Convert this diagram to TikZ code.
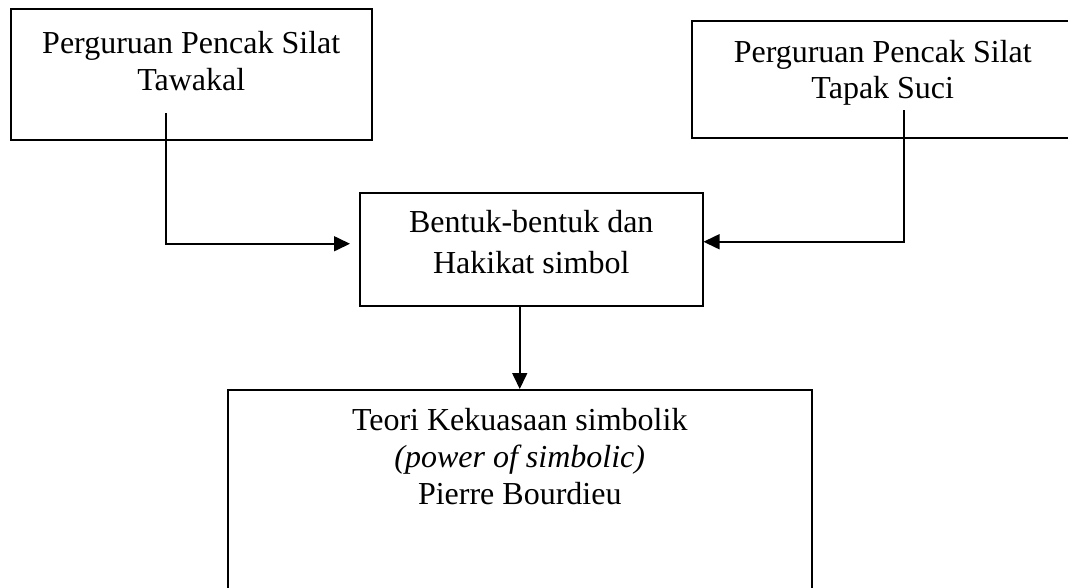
\documentclass[tikz,border=0pt]{standalone}
\usepackage{fontspec}
\setmainfont{Liberation Serif}
\usetikzlibrary{positioning}
\usetikzlibrary{arrows.meta}

\tikzset{
    frame/.style={draw,line width=1.5pt,anchor=north west,inner sep=0pt},
    caption/.style={anchor=north,align=center,inner sep=0pt,font=\fontsize{32}{36}\selectfont},
    link/.style={line width=1.6pt,-{Triangle[length=16pt,width=15pt]}},
}

\begin{document}
\begin{tikzpicture}[x=1pt,y=-1pt]
    \useasboundingbox (0,0) rectangle (1068,587);

    \node[frame,minimum width=361pt,minimum height=131pt] (tawakal) at (10,8) {};
    \node[frame,minimum width=382pt,minimum height=117pt] (tapaksuci) at (691,20) {};
    \node[frame,minimum width=343pt,minimum height=113pt] (bentuk) at (359,192) {};
    \node[frame,minimum width=584pt,minimum height=230pt] (teori) at (227,389) {};

    \node[caption,font=\fontsize{32}{37}\selectfont,below=23pt of tawakal.north] (tawakal-text) {Perguruan Pencak Silat\\Tawakal};
    \node[caption,below=20pt of tapaksuci.north] (tapaksuci-text) {Perguruan Pencak Silat\\Tapak Suci};
    \node[caption,font=\fontsize{32}{41}\selectfont,below=18pt of bentuk.north] (bentuk-text) {Bentuk-bentuk dan\\Hakikat simbol};
    \node[caption,font=\fontsize{32}{37}\selectfont,below=19pt of teori.north] (teori-text) {Teori Kekuasaan simbolik\\\textit{(power of simbolic)}\\Pierre Bourdieu};

    \coordinate (tawakal-out) at (166,113);
    \coordinate (tapaksuci-out) at (904,110);
    \draw[link,shorten >=9pt] (tawakal-out) |- ([yshift=5.5pt]bentuk.west);
    \draw[link] (tapaksuci-out) |- ([yshift=7.5pt]bentuk.east);
    \draw[link] (bentuk.south -| teori.north) -- (teori.north);
\end{tikzpicture}
\end{document}
